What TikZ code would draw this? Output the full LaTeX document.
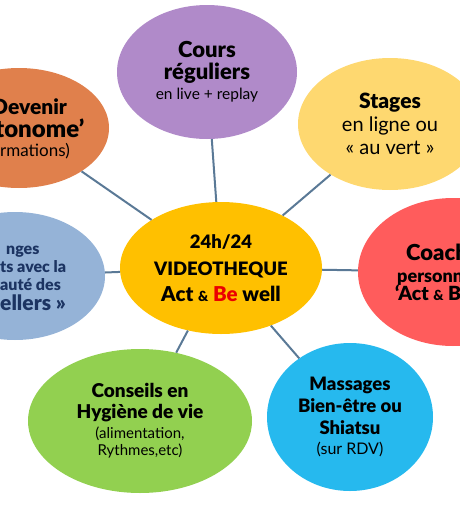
\documentclass[tikz,border=0pt]{standalone}
\usepackage{fontspec}
\setmainfont{Lato}[BoldFont={Lato Black}]
\usetikzlibrary{shapes.geometric}

\definecolor{coursPurple}{RGB}{176,138,201}
\definecolor{devenirOrange}{RGB}{224,128,76}
\definecolor{stagesYellow}{RGB}{254,216,112}
\definecolor{echangesBlue}{RGB}{149,179,215}
\definecolor{hubGold}{RGB}{255,192,0}
\definecolor{coachRed}{RGB}{255,92,92}
\definecolor{conseilsGreen}{RGB}{146,208,80}
\definecolor{massagesCyan}{RGB}{38,185,238}
\definecolor{linkSlate}{RGB}{90,121,150}
\definecolor{navyText}{RGB}{28,52,98}
\definecolor{beRed}{RGB}{235,0,0}

\begin{document}
\begin{tikzpicture}[x=1pt, y=-1pt,
  bubble/.style={ellipse, draw=none, inner sep=0pt, align=center}]
  \useasboundingbox (0,0) rectangle (460,525);
  \clip (0,0) rectangle (460,525);
  % --- Outer bubbles ---
  \node[bubble, fill=coursPurple, minimum width=180pt, minimum height=134pt,
        font=\fontsize{22}{23}\selectfont]
    (cours) at (207,72)
    {\bfseries Cours\\[-1pt]
     \bfseries réguliers\\[-3pt]
     \fontsize{15.5}{17}\selectfont en live + replay};
  \node[bubble, fill=devenirOrange, minimum width=180pt, minimum height=120pt]
    (devenir) at (19,128) {};
  \node[bubble, fill=stagesYellow, minimum width=184pt, minimum height=132pt,
        font=\fontsize{20}{23}\selectfont]
    (stages) at (390,124)
    {\bfseries\fontsize{21}{23}\selectfont Stages\\
     en ligne ou\\
     « au vert »};
  \node[bubble, fill=echangesBlue, minimum width=180pt, minimum height=128pt]
    (echanges) at (15,276) {};
  \node[bubble, fill=coachRed, minimum width=190pt, minimum height=148pt]
    (coach) at (453,272) {};
  \node[bubble, fill=conseilsGreen, minimum width=224pt, minimum height=144pt,
        font=\fontsize{19}{21}\selectfont]
    (conseils) at (140,421)
    {\bfseries Conseils en\\
     \bfseries Hygiène de vie\\[-1pt]
     \fontsize{15}{17}\selectfont (alimentation,\\[-4pt]
     \fontsize{15}{17}\selectfont Rythmes,etc)};
  \node[bubble, fill=massagesCyan, minimum width=166pt, minimum height=148pt,
        font=\fontsize{18.5}{22}\selectfont]
    (massages) at (350,417)
    {\bfseries Massages\\
     \bfseries Bien-être ou\\
     \bfseries Shiatsu\\[-2pt]
     \fontsize{16}{20}\selectfont (sur RDV)};
  % --- Centre ---
  \node[bubble, fill=hubGold, minimum width=202pt, minimum height=132pt,
        font=\fontsize{18.5}{27}\selectfont]
    (hub) at (221,268)
    {\bfseries 24h/24\\
     \bfseries VIDEOTHEQUE\\[-1pt]
     \bfseries\fontsize{20.5}{26}\selectfont Act {\fontsize{14}{14}\selectfont\&}
     \textcolor{beRed}{Be} well};
  % --- Texts cut by the frame ---
  \node[anchor=base west, align=left, inner sep=0pt,
        font=\fontsize{21}{23}\selectfont] (devenirtxt) at (-8,156)
    {\bfseries Devenir\\
     \bfseries\fontsize{24}{23}\selectfont \hspace*{3pt}tonome’\\[-4pt]
     \fontsize{17}{19}\selectfont \hspace*{8pt}rmations)};
  \node[anchor=base west, align=left, inner sep=0pt, text=navyText,
        font=\fontsize{16}{18}\selectfont]
    (echangestxt) at (0,310)
    {\bfseries \hspace{6pt}nges\\
     \bfseries ts avec la\\
     \bfseries auté des\\[2pt]
     \bfseries\fontsize{21}{20}\selectfont ellers »};
  \node[anchor=base west, align=left, inner sep=0pt,
        font=\fontsize{18}{20}\selectfont] (coachtxt) at (395,300)
    {\bfseries\fontsize{22}{21}\selectfont \hspace{11pt}Coach\\[2pt]
     \bfseries \hspace{2pt}personn\\[-2pt]
     \bfseries\fontsize{19.5}{18}\selectfont ‘Act {\fontsize{14}{14}\selectfont\&} B};
  % --- Links ---
  \foreach \n in {cours,devenir,stages,echanges,coach,conseils,massages}
    \draw[linkSlate, line width=2pt] (hub) -- (\n);
\end{tikzpicture}
\end{document}
